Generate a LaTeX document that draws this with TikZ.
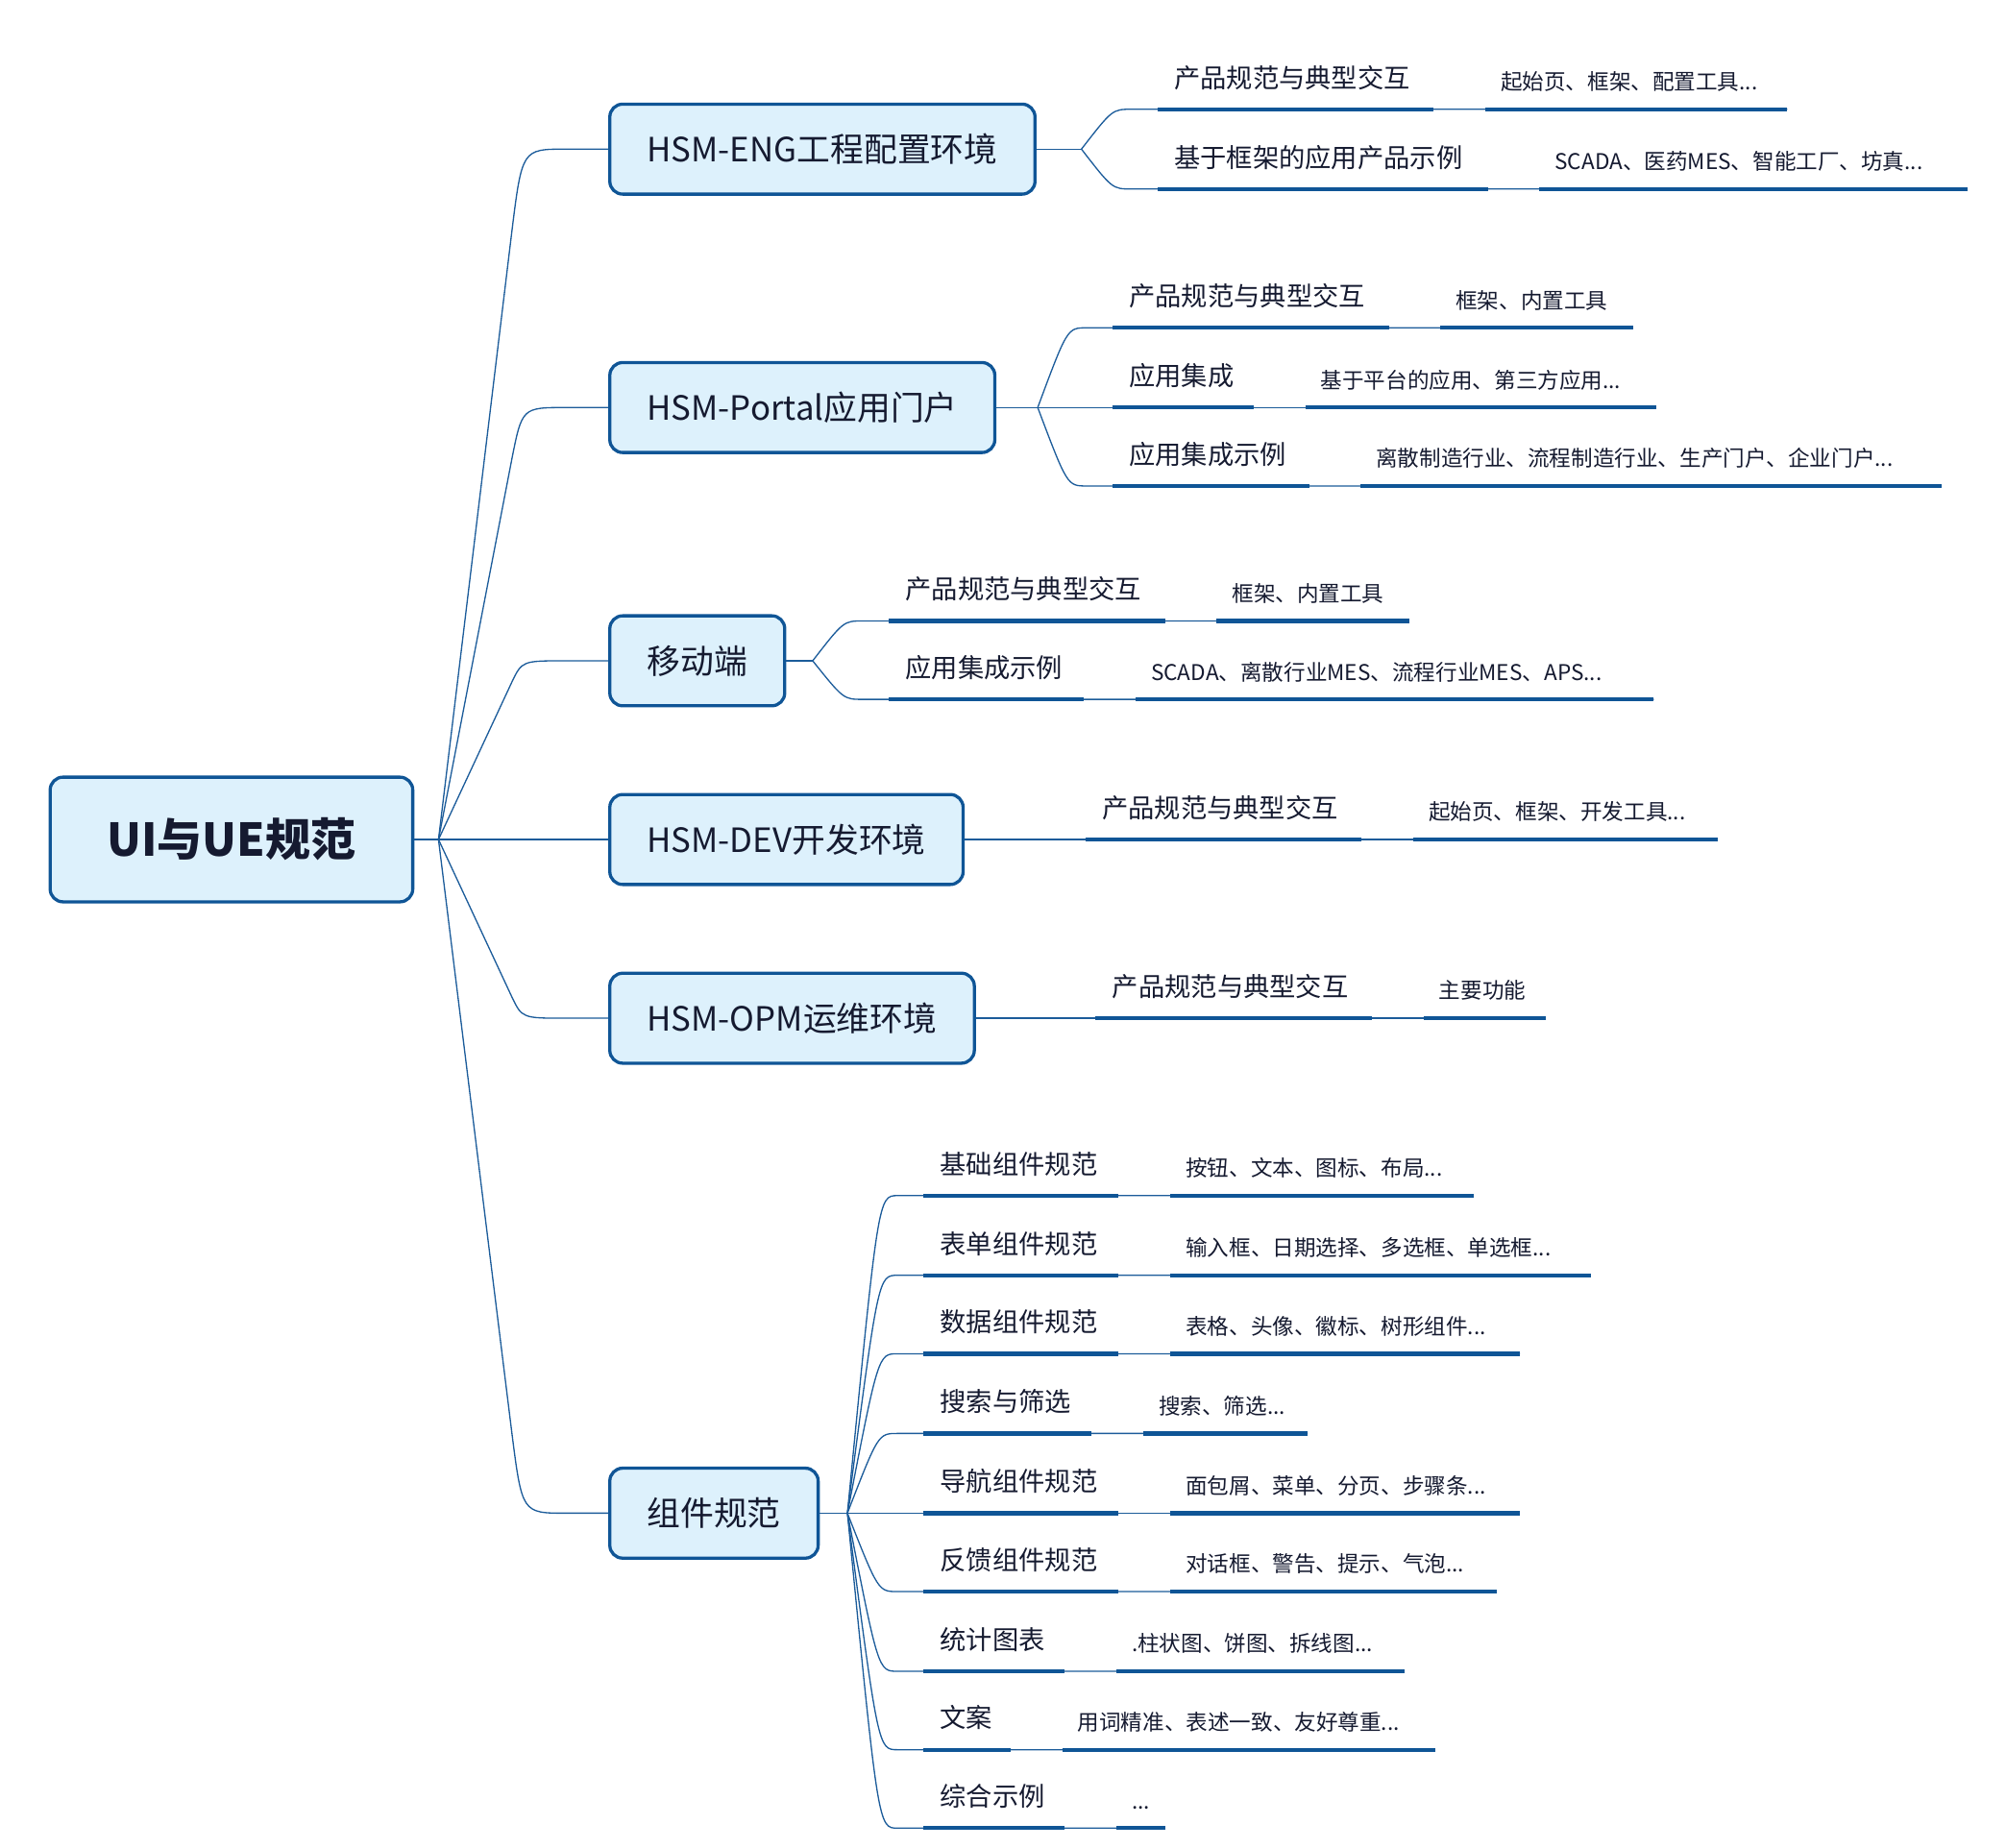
\documentclass[tikz,border=0pt]{standalone}
\usepackage{fontspec}
\setmainfont{Noto Sans CJK SC}
\usetikzlibrary{calc}
\definecolor{ln}{HTML}{1C5C9A}
\definecolor{tk}{HTML}{0F5596}
\definecolor{fl}{HTML}{DDF1FC}
\definecolor{tx}{HTML}{151A30}
\tikzset{
 thinl/.style={draw=ln,line width=1.4pt},
 thickl/.style={draw=tk,line width=4.5pt},
 mainbox/.style={draw=tk,fill=fl,line width=3.5pt,rounded corners=0.5cm,minimum height=3.5cm,inner xsep=1.45cm,anchor=west,text=tx,font=\fontsize{37}{40}\selectfont},
 lab/.style={text=tx,font=\fontsize{29}{32}\selectfont,inner sep=0pt,anchor=base west},
 val/.style={text=tx,font=\fontsize{24}{28}\selectfont,inner sep=0pt,anchor=base west},
}
\newcommand\leaf[9]{%
 \coordinate (#2s) at (#4-20,#3);
 \coordinate (#2e) at (#7,#3);
 \coordinate (#2a) at (#4,#3); \coordinate (#2b) at (#5,#3);
 \coordinate (#2c) at (#6,#3);
 \draw[thinl] (#1) .. controls (#4-35,#3) .. (#2s) -- (#2e);
 \draw[thickl] (#2a) -- (#2b); \draw[thickl] (#2c) -- (#2e);
 \node[lab] (#2l) at (#4+13,#3-17) {#8};
 \node[val] (#2v) at (#6+12,#3-15) {#9};
}
\begin{document}
\begin{tikzpicture}[x=0.05cm,y=-0.05cm]
\useasboundingbox (0,0) rectangle (1560,1437);
\node[draw=tk,fill=fl,line width=3.5pt,rounded corners=0.5cm,minimum width=14.1cm,minimum height=4.85cm,text=tx,font=\fontsize{50}{54}\selectfont\bfseries] (root) at (180,653) {UI与UE规范};
\coordinate (hub) at (341,653);
\draw[thinl] (root.east) -- (hub);
\node[mainbox] (n1) at (473,116) {HSM-ENG工程配置环境};
\node[mainbox] (n2) at (473,317) {HSM-Portal应用门户};
\node[mainbox] (n3) at (473,514) {移动端};
\node[mainbox] (n4) at (473,653) {HSM-DEV开发环境};
\node[mainbox] (n5) at (473,792) {HSM-OPM运维环境};
\node[mainbox] (n6) at (473,1177) {组件规范};
\foreach \n/\y in {n1/116,n2/317,n3/514,n5/792,n6/1177}{
 \draw[thinl] (hub) -- ($(398,\y)+(0,{0.12*(653-\y)})$) .. controls (406,\y) .. (440,\y) -- (\n.west);
}
\draw[thinl] (hub) -- (n4.west);
% ENG
\coordinate (h1) at (841,116); \draw[thinl] (n1.east) -- (h1);
\leaf{h1}{a1}{85}{900}{1115}{1155}{1390}{产品规范与典型交互}{起始页、框架、配置工具...}
\leaf{h1}{a2}{147}{900}{1157}{1197}{1530}{基于框架的应用产品示例}{SCADA、医药MES、智能工厂、坊真...}
% Portal
\coordinate (h2) at (807,317); \draw[thinl] (n2.east) -- (h2);
\leaf{h2}{b1}{255}{865}{1080}{1120}{1270}{产品规范与典型交互}{框架、内置工具}
\leaf{h2}{b2}{317}{865}{975}{1015}{1288}{应用集成}{基于平台的应用、第三方应用...}
\leaf{h2}{b3}{378}{865}{1018}{1058}{1510}{应用集成示例}{离散制造行业、流程制造行业、生产门户、企业门户...}
% mobile
\coordinate (h3) at (632,514); \draw[thinl] (n3.east) -- (h3);
\leaf{h3}{c1}{483}{691}{906}{946}{1096}{产品规范与典型交互}{框架、内置工具}
\leaf{h3}{c2}{544}{691}{843}{883}{1286}{应用集成示例}{SCADA、离散行业MES、流程行业MES、APS...}
% DEV
\leaf{n4.east}{d1}{653}{844}{1059}{1099}{1336}{产品规范与典型交互}{起始页、框架、开发工具...}
% OPM
\leaf{n5.east}{e1}{792}{852}{1067}{1107}{1202}{产品规范与典型交互}{主要功能}
% components
\coordinate (h6) at (659,1177); \draw[thinl] (n6.east) -- (h6);
\leaf{h6}{f1}{930}{718}{870}{910}{1146}{基础组件规范}{按钮、文本、图标、布局...}
\leaf{h6}{f2}{992}{718}{870}{910}{1237}{表单组件规范}{输入框、日期选择、多选框、单选框...}
\leaf{h6}{f3}{1053}{718}{870}{910}{1182}{数据组件规范}{表格、头像、徽标、树形组件...}
\leaf{h6}{f4}{1115}{718}{849}{889}{1017}{搜索与筛选}{搜索、筛选...}
\leaf{h6}{f5}{1177}{718}{870}{910}{1182}{导航组件规范}{面包屑、菜单、分页、步骤条...}
\leaf{h6}{f6}{1238}{718}{870}{910}{1164}{反馈组件规范}{对话框、警告、提示、气泡...}
\leaf{h6}{f7}{1300}{718}{828}{868}{1092}{统计图表}{.柱状图、饼图、拆线图...}
\leaf{h6}{f8}{1361}{718}{786}{826}{1116}{文案}{用词精准、表述一致、友好尊重...}
\leaf{h6}{f9}{1422}{718}{828}{868}{906}{综合示例}{...}
\end{tikzpicture}
\end{document}
